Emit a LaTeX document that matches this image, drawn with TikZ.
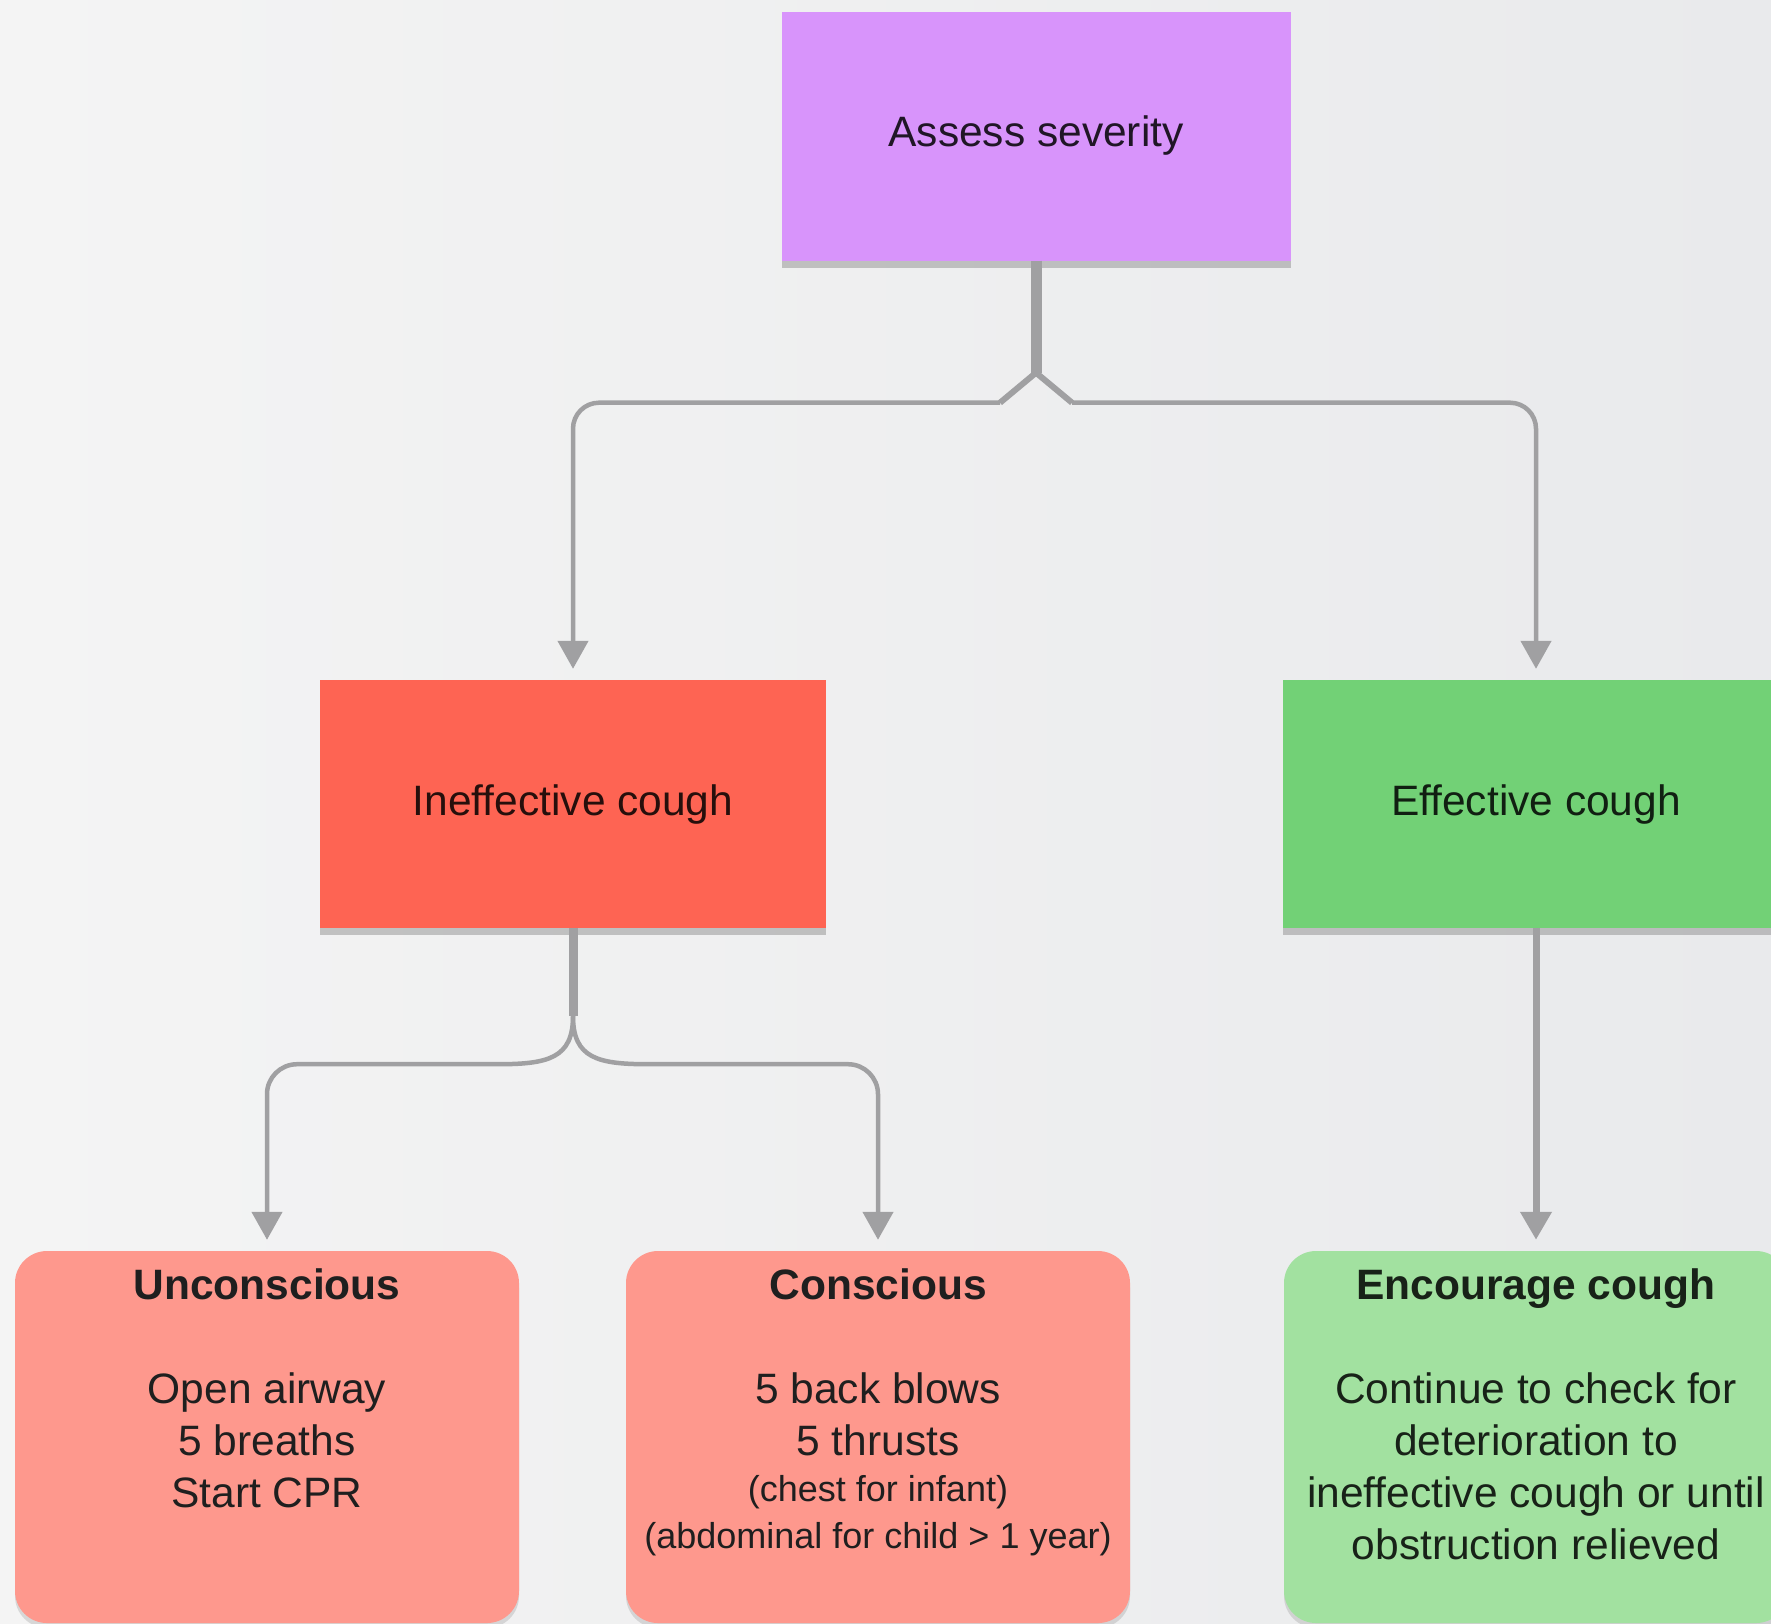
\documentclass[tikz,border=0pt]{standalone}
\usepackage{fontspec}
\setmainfont{Liberation Sans}
\usetikzlibrary{arrows.meta,shadows}

\definecolor{bgleft}{HTML}{F4F4F4}
\definecolor{bgright}{HTML}{E9EAEC}
\definecolor{purplebox}{HTML}{D894FB}
\definecolor{redbox}{HTML}{FE6453}
\definecolor{greenbox}{HTML}{72D176}
\definecolor{softred}{HTML}{FE988D}
\definecolor{softgreen}{HTML}{A2E1A0}
\definecolor{wiregray}{HTML}{A0A0A2}

\tikzset{>=latex}
\tikzstyle{box} = [rectangle, inner sep=0pt, minimum width=506pt, minimum height=248pt,
  font=\fontsize{42.5}{52}\selectfont,
  drop shadow={shadow xshift=0pt, shadow yshift=-7pt, opacity=.35, fill=black!60}]
\tikzstyle{card} = [rectangle, rounded corners=32pt, minimum width=504pt, minimum height=372pt,
  drop shadow={shadow xshift=0pt, shadow yshift=-5pt, opacity=.2, fill=black!60}]
\tikzstyle{cardtext} = [align=center, anchor=north, inner sep=0pt, text=black!88,
  font=\fontsize{42.5}{52}\selectfont]
\tikzstyle{trunk} = [draw=wiregray, line width=11pt]
\tikzstyle{stub} = [draw=wiregray, line width=6pt]
\tikzstyle{wire} = [draw=wiregray, line width=4.5pt,
  -{Triangle[width=30pt,length=28pt]}, shorten >=11pt]

\begin{document}
\begin{tikzpicture}[x=1pt, y=-1pt]

\fill [left color=bgleft, right color=bgright] (0,0) rectangle (1771,1623);
\useasboundingbox (0,0) rectangle (1771,1623);

% decision boxes
\node [box, fill=purplebox, minimum width=509pt, minimum height=249pt,
  text=purplebox!15!black] (assess) at (1036,136) {Assess severity};
\node [box, fill=redbox, text=redbox!15!black] (ineff) at (573,804) {Ineffective cough};
\node [box, fill=greenbox, text=greenbox!15!black] (eff) at (1536,804) {Effective cough};

% action cards
\foreach \n/\x/\c in {uncon/267/softred, consc/878/softred, encour/1536/softgreen}
  \node [card, fill=\c] (\n) at (\x,1437) {};

\node [cardtext] (uncon-text) at ([yshift=-18pt]uncon.north)
  {\textbf{Unconscious}\\[52pt]Open airway\\5 breaths\\Start CPR};
\node [cardtext] (consc-text) at ([yshift=-18pt]consc.north)
  {\textbf{Conscious}\\[52pt]5 back blows\\5 thrusts\\[-6pt]
   {\fontsize{36}{47}\selectfont (chest for infant)}\\[-5pt]
   {\fontsize{36}{47}\selectfont (abdominal for child > 1 year)}};
\node [cardtext, text=softgreen!15!black] (encour-text) at ([yshift=-18pt]encour.north)
  {\textbf{Encourage cough}\\[52pt]Continue to check for\\deterioration to\\
   ineffective cough or until\\obstruction relieved};

% first split
\coordinate (fork-top) at ([yshift=-112pt]assess.south);
\coordinate (knee-l) at ([shift={(-36,30)}]fork-top);
\coordinate (knee-r) at ([shift={(36,30)}]fork-top);
\draw [trunk] (assess.south) -- (fork-top);
\draw [stub] (knee-l) -- (fork-top) -- (knee-r);
\draw [wire, rounded corners=26pt] (knee-l) -| (ineff.north);
\draw [wire, rounded corners=26pt] (knee-r) -| (eff.north);

% second split
\coordinate (fork-mid) at ([yshift=-88pt]ineff.south);
\coordinate (elbow-l) at ([shift={(-75,48)}]fork-mid);
\coordinate (elbow-r) at ([shift={(75,48)}]fork-mid);
\draw [trunk, line width=9pt] (ineff.south) -- (fork-mid);
\draw [wire] (fork-mid) .. controls +(0,42) and +(50,0) .. (elbow-l)
  [rounded corners=30pt] -| (uncon.north);
\draw [wire] (fork-mid) .. controls +(0,42) and +(-50,0) .. (elbow-r)
  [rounded corners=30pt] -| (consc.north);

% effective branch
\draw [wire, line width=7pt] (eff.south) -- (encour.north);

\end{tikzpicture}
\end{document}
